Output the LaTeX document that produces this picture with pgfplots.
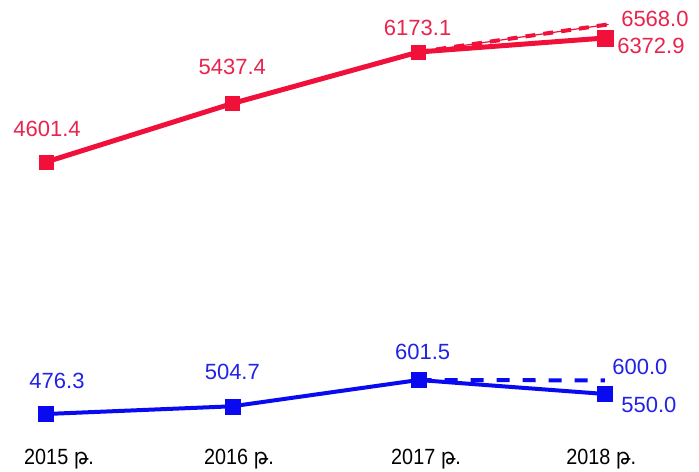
\documentclass[border=0pt]{standalone}
\usepackage{pgfplots}
\pgfplotsset{compat=1.18}
\usepackage{fontspec}
\setmainfont{Liberation Sans}
\newfontfamily\tickfont[FakeStretch=0.9]{Liberation Sans}
\newfontfamily\armfont[FakeStretch=0.9]{DejaVu Sans}
\definecolor{rline}{HTML}{F0103A}
\definecolor{rlab}{HTML}{E8244E}
\definecolor{bline}{HTML}{0A0AF0}
\definecolor{blab}{HTML}{2222E6}
\newcommand{\lfont}{\fontsize{22bp}{24bp}\selectfont}
\newcommand{\lab}[5]{\addplot[draw=none, mark=none, forget plot, nodes near coords, point meta=explicit symbolic, nodes near coords style={anchor=center, inner sep=0pt, xshift=#3, yshift=#4, text=#5, font=\lfont}] coordinates {(#1)[#2]};}
\begin{document}
\begin{tikzpicture}
% red series
\begin{axis}[at={(0,25bp)}, anchor=south west, scale only axis, width=699bp, height=447bp,
  xmin=-0.247, xmax=3.505, ymin=530.2, ymax=6916, axis lines=none, clip=false]
\addplot[rline, line width=1.2bp, forget plot] coordinates {(2,6173.1)(3.02,6568.0)};
\addplot[rline, line width=4bp, dash pattern=on 10bp off 8bp, forget plot] coordinates {(2,6173.1)(3.02,6568.0)};
\addplot[rline, line width=5bp, mark=square*, mark size=7bp, mark options={solid, line width=0.3bp}] coordinates {(0,4601.4)(1,5437.4)(2,6173.1)(3,6372.9)};
\addplot[draw=none, mark=square*, mark size=8bp, mark options={rline, solid, line width=0.3bp}, forget plot] coordinates {(3,6372.9)};
\lab{0,4601.4}{4601.4}{1bp}{33bp}{rlab}
\lab{1,5437.4}{5437.4}{0bp}{37bp}{rlab}
\lab{2,6173.1}{6173.1}{-1bp}{24bp}{rlab}
\lab{3,6568.0}{6568.0}{50bp}{5bp}{rlab}
\lab{3,6372.9}{6372.9}{46bp}{-8bp}{rlab}
\end{axis}
% blue series
\begin{axis}[at={(0,25bp)}, anchor=south west, scale only axis, width=699bp, height=447bp,
  xmin=-0.247, xmax=3.505, ymin=354.8, ymax=2000.6, clip=false,
  hide y axis, axis x line*=bottom, x axis line style={draw=none}, major tick length=0pt,
  xtick={0.07,1.036,2.04,2.98},
  xticklabels={{2015 {\armfont թ}.},{2016 {\armfont թ}.},{2017 {\armfont թ}.},{2018 {\armfont թ}.}},
  xticklabel style={font=\tickfont\fontsize{22bp}{24bp}\selectfont, text=black, inner sep=0pt, yshift=-2bp}]
\addplot[bline, line width=4bp, dash pattern=on 13bp off 13bp, forget plot] coordinates {(2,601.5)(3,600.0)};
\addplot[bline, line width=4bp, mark=square*, mark size=7.5bp, mark options={solid, line width=0.3bp}] coordinates {(0,476.3)(1,504.7)(2,601.5)(3,550.0)};
\lab{0,476.3}{476.3}{11bp}{33bp}{blab}
\lab{1,504.7}{504.7}{0bp}{34bp}{blab}
\lab{2,601.5}{601.5}{4bp}{28bp}{blab}
\lab{3,600.0}{600.0}{35bp}{13bp}{blab}
\lab{3,550.0}{550.0}{44bp}{-11bp}{blab}
\end{axis}
\pgfresetboundingbox
\path (0,0) rectangle (699bp,472bp);
\end{tikzpicture}
\end{document}
